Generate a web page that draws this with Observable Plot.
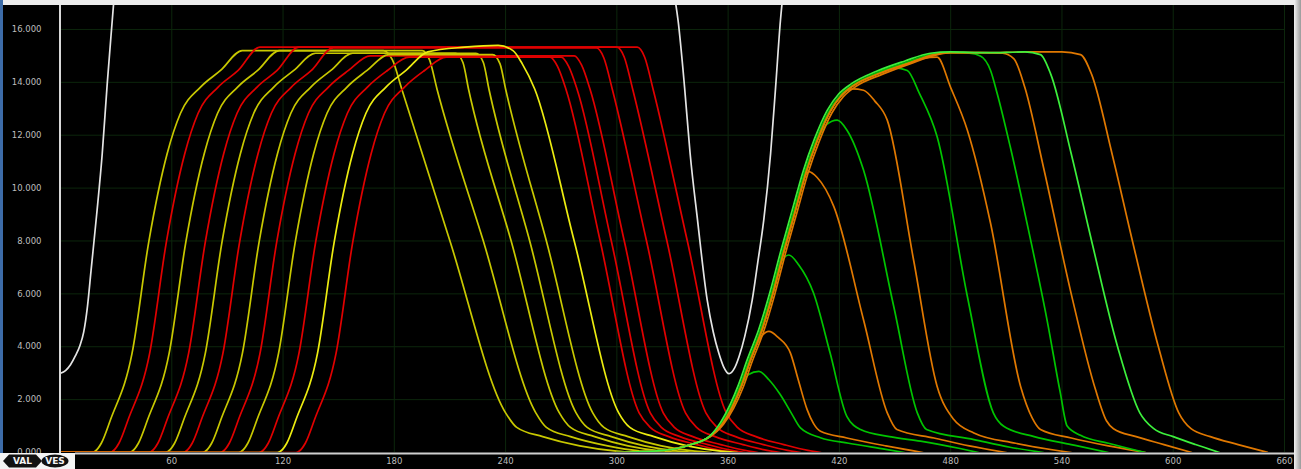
<!DOCTYPE html>
<html><head><meta charset="utf-8">
<script src="https://cdn.jsdelivr.net/npm/d3@7"></script>
<script src="https://cdn.jsdelivr.net/npm/@observablehq/plot@0.6"></script>
<style>html,body{margin:0;padding:0;background:#000;overflow:hidden}</style>
</head><body><div id="chart"></div>
<script>
// ---- tick values ----
const xTicks = [60,120,180,240,300,360,420,480,540,600,660];
const yTicks = [0,2,4,6,8,10,12,14,16];

// ---- white clearance curve (deg, mm) ----
const w1 = [0,3.0, 2.7,3.1, 5.4,3.32, 8,3.65, 10.5,4.05, 12.5,4.55, 14.5,5.5, 16.5,6.9, 19.5,9.0, 22.5,11.3, 25.2,13.95, 27.9,16.34, 29,17.3];
const w2 = [331,17.3, 333,16.34, 336.5,13.82, 339.5,11.31, 343.5,8.79, 348.7,5.77, 352,4.55, 355,3.75, 357.5,3.25, 360.5,2.98, 363.5,3.2, 366,3.65, 369,4.4, 373,5.77, 376,7.2, 379.2,8.79, 382.9,11.31, 385.6,13.82, 388.2,16.34, 389.5,17.3];

// ---- red / yellow lift curves (deg, mm) ----
const ry0 = [0,0, 17,0, 22,0.35, 27,1.25, 38.6,3.76, 47.6,7.97, 57.5,11.3, 64.7,12.83, 75.5,13.82, 86.3,14.45, 98,15.2, 174,15.2, 179,14.85, 184,13.75, 210,8, 240,1.5, 246,0.95, 260,0.6, 280,0.25, 300,0.05, 310,0];
const ry1 = [0,0, 26.5,0, 31.5,0.35, 36.5,1.25, 48.1,3.76, 57.1,7.97, 67,11.3, 74.2,12.83, 85,13.82, 95.8,14.45, 107.5,15.33, 311,15.33, 315,14.95, 319.5,13.75, 338,8, 359,1.5, 365,0.95, 375,0.6, 390,0.3, 403,0.08, 410,0];
const ry2 = [0,0, 37,0, 42,0.35, 47,1.25, 58.6,3.76, 67.6,7.97, 77.5,11.3, 84.7,12.83, 95.5,13.82, 106.3,14.45, 118,15.2, 195,15.2, 199,14.85, 203,13.75, 228,8, 256.3,1.5, 262,0.95, 275,0.6, 295,0.25, 313,0.05, 322,0];
const ry3 = [0,0, 47.5,0, 52.5,0.35, 57.5,1.25, 69.1,3.76, 78.1,7.97, 88,11.3, 95.2,12.83, 106,13.82, 116.8,14.45, 128.5,15.33, 300,15.33, 304,14.95, 308.5,13.75, 327,8, 348,1.5, 354,0.95, 364,0.6, 379,0.3, 392,0.08, 399,0];
const ry4 = [0,0, 56.5,0, 61.5,0.35, 66.5,1.25, 78.1,3.76, 87.1,7.97, 97,11.3, 104.2,12.83, 115,13.82, 125.8,14.45, 137.5,15.1, 213,15.1, 217,14.75, 220,13.75, 243,8, 269,1.5, 275,0.95, 288,0.6, 306,0.25, 324,0.05, 333,0];
const ry5 = [0,0, 66,0, 71,0.35, 76,1.25, 87.6,3.76, 96.6,7.97, 106.5,11.3, 113.7,12.83, 124.5,13.82, 135.3,14.45, 147,15.3, 289,15.3, 293,14.92, 297.5,13.75, 316,8, 337,1.5, 343,0.95, 353,0.6, 368,0.3, 381,0.08, 388,0];
const ry6 = [0,0, 76.5,0, 81.5,0.35, 86.5,1.25, 98.1,3.76, 107.1,7.97, 117,11.3, 124.2,12.83, 135,13.82, 145.8,14.45, 157.5,15.1, 224,15.1, 228,14.75, 231,13.75, 253,8, 278,1.5, 284,0.95, 297,0.6, 315,0.25, 333,0.05, 342,0];
const ry7 = [0,0, 86,0, 91,0.35, 96,1.25, 107.6,3.76, 116.6,7.97, 126.5,11.3, 133.7,12.83, 144.5,13.82, 155.3,14.45, 167,15.0, 277,15.0, 281,14.65, 285.5,13.75, 304,8, 325,1.5, 331,0.95, 341,0.6, 356,0.3, 369,0.08, 376,0];
const ry8 = [0,0, 96,0, 101,0.35, 106,1.25, 117.6,3.76, 126.6,7.97, 136.5,11.3, 143.7,12.83, 154.5,13.82, 165.3,14.45, 177,15.05, 233,15.05, 237,14.7, 240,13.75, 262,8, 287,1.5, 293,0.95, 306,0.6, 324,0.25, 342,0.05, 351,0];
const ry9 = [0,0, 107,0, 112,0.35, 117,1.25, 128.6,3.76, 137.6,7.97, 147.5,11.3, 154.7,12.83, 165.5,13.82, 176.3,14.45, 188,14.95, 270,14.95, 274,14.6, 278.5,13.75, 297,8, 318,1.5, 324,0.95, 334,0.6, 349,0.3, 362,0.08, 369,0];
const ry10 = [0,0, 117,0, 122,0.35, 127,1.25, 138.6,3.76, 147.6,7.97, 157.5,11.3, 164.7,12.83, 175.5,13.82, 186.3,14.45, 198,15.15, 218,15.33, 236,15.4, 244,15.2, 249,14.7, 255.7,13.75, 277,8, 301,1.5, 307,0.95, 320,0.6, 338,0.25, 356,0.05, 365,0];
const ry11 = [0,0, 127,0, 132,0.35, 137,1.25, 148.6,3.76, 157.6,7.97, 167.5,11.3, 174.7,12.83, 185.5,13.82, 196.3,14.45, 208,14.95, 264,14.95, 268,14.6, 272.5,13.75, 291,8, 312,1.5, 318,0.95, 328,0.6, 343,0.3, 356,0.08, 363,0];

// ---- green / orange lift curves (deg, mm) ----
const go1 = [300,0, 325,0.08, 340,0.3, 350,0.6, 357,1.1, 362,1.7, 367,2.5, 371,2.95, 376.6,3.07, 382,2.75, 388,2.2, 394,1.5, 399,0.93, 409.8,0.56, 425,0.35, 445,0.12, 455,0];
const go2 = [300,0, 325,0.08, 340,0.3, 350,0.6, 357,1.1, 362,1.7, 367,2.5, 372,3.5, 377,4.3, 382,4.58, 387,4.35, 393.6,3.76, 398,2.7, 402.6,1.62, 406,1.1, 409.8,0.8, 424,0.55, 445,0.25, 465,0];
const go3 = [300,0, 325,0.08, 340,0.3, 350,0.6, 357,1.1, 362,1.7, 367,2.5, 372,3.5, 378,4.6, 384,6.0, 388,7.1, 392.7,7.47, 398,7.1, 406,6.04, 415,3.76, 424,1.37, 431.4,0.87, 447,0.6, 463.7,0.43, 485,0.15, 495,0];
const go4 = [300,0, 325,0.08, 340,0.3, 350,0.6, 357,1.1, 362,1.7, 367,2.5, 372,3.5, 378,4.6, 384,6.0, 390,7.6, 396,9.1, 400,10.2, 403.5,10.62, 408,10.4, 417,9.3, 433,5.02, 445.8,1.5, 451,0.87, 471,0.55, 490,0.25, 510,0];
const go5 = [300,0, 325,0.08, 340,0.3, 350,0.6, 357,1.1, 362,1.7, 367,2.5, 372,3.5, 378,4.6, 384,6.0, 390,7.6, 396,9.1, 402,10.6, 408,11.8, 413,12.4, 418.8,12.57, 424,12.2, 433,10.68, 449.3,5.52, 462,1.5, 467,0.87, 492.5,0.49, 512,0.2, 530,0];
const go6 = [300,0, 325,0.08, 340,0.3, 350,0.6, 357,1.1, 362,1.7, 367,2.5, 372,3.5, 378,4.6, 384,6.0, 390,7.6, 396,9.1, 402,10.6, 408,11.8, 415,12.9, 421,13.5, 427,13.75, 433,13.7, 439,13.3, 445.8,12.57, 460,7.28, 472.7,2.5, 481.7,1.245, 492.5,0.74, 515,0.35, 545,0];
const go7 = [300,0, 325,0.08, 340,0.3, 350,0.6, 357,1.1, 362,1.7, 367,2.5, 372,3.5, 378,4.6, 384,6.0, 390,7.6, 396,9.1, 402,10.6, 408,11.8, 415,12.9, 421,13.5, 428,13.9, 442,14.35, 450,14.55, 456.6,14.45, 463,13.6, 472.7,11.94, 489,5.9, 503,1.5, 508.6,0.99, 525,0.6, 545,0.3, 565,0];
const go8 = [300,0, 325,0.08, 340,0.3, 350,0.6, 357,1.1, 362,1.7, 367,2.5, 372,3.5, 378,4.6, 384,6.0, 390,7.6, 396,9.1, 402,10.6, 408,11.8, 415,12.9, 421,13.5, 428,13.9, 442,14.35, 457,14.72, 465,14.9, 472.7,14.95, 480,13.8, 489,12.19, 501.5,8.67, 517.7,2.5, 524,1.3, 528.4,0.87, 545,0.55, 565,0.25, 585,0];
const go9 = [300,0, 325,0.08, 340,0.3, 350,0.6, 356.3,1.1, 361.3,1.7, 366.3,2.5, 371.3,3.5, 377.3,4.6, 383.3,6.0, 389.3,7.6, 395.3,9.1, 401.3,10.6, 407.3,11.8, 414.3,12.9, 420.3,13.5, 427.3,13.9, 441,14.38, 456,14.75, 470,15.07, 480,15.12, 490,15.1, 496,15.0, 501.5,14.45, 505,13.6, 512,11.6, 522,8.4, 532,5.0, 539,2.3, 542.8,1.0, 550,0.65, 565,0.35, 585,0];
const go10 = [300,0, 325,0.08, 340,0.3, 350,0.6, 357,1.1, 362,1.7, 367,2.5, 372,3.5, 378,4.6, 384,6.0, 390,7.6, 396,9.1, 402,10.6, 408,11.8, 415,12.9, 421,13.5, 428,13.9, 442,14.35, 457,14.72, 471,15.05, 480,15.12, 495,15.12, 508,15.1, 514,14.9, 520,13.8, 530,10.8, 545,6.0, 558,2.4, 564,1.2, 567.8,0.9, 580,0.6, 595,0.3, 610,0];
const go11 = [300,0, 325,0.08, 340,0.3, 350,0.62, 356,1.15, 361,1.8, 365.5,2.55, 370.5,3.55, 376.5,4.65, 382.5,6.05, 388.5,7.65, 394.5,9.15, 400.5,10.65, 406.5,11.85, 413.5,12.95, 419.5,13.55, 426.5,13.95, 440,14.42, 455,14.8, 469,15.1, 480,15.15, 500,15.12, 520,15.15, 528.4,15.05, 534,14.3, 545,11.3, 556,8.0, 570,4.0, 582,1.5, 589.5,0.9, 600,0.6, 612,0.3, 625,0];
const go12 = [300,0, 325,0.08, 340,0.3, 350,0.58, 357.5,1.07, 363,1.68, 368,2.45, 373,3.45, 379,4.55, 385,5.95, 391,7.55, 397,9.05, 403,10.55, 409,11.75, 416,12.85, 422,13.45, 429,13.85, 443,14.3, 458,14.7, 472,15.03, 480,15.12, 500,15.12, 520,15.15, 540,15.15, 550,15.05, 556,14.3, 567,11.3, 578,8.0, 592,4.0, 603,1.5, 609.6,0.9, 620,0.6, 635,0.3, 651,0];

// ---- series: name, colour, points (draw order) ----
const YEL = "#c8c800", YEL2 = "#ecec10", RED = "#e00000", GRN = "#00c400", GRN2 = "#3cf03c", ORG = "#e07800", WHT = "#e4e4e4";
const seriesNames  = ["ry0","ry1","ry2","ry3","ry4","ry5","ry6","ry7","ry8","ry9","ry11","ry10",
                      "go1","go2","go3","go4","go5","go6","go7","go8","go9","go10","go12","go11","w1","w2"];
const seriesColors = [YEL,RED,YEL,RED,YEL,RED,YEL,RED,YEL,RED,RED,YEL2,
                      GRN,ORG,GRN,ORG,GRN,ORG,GRN,ORG,GRN,ORG,ORG,GRN2,WHT,WHT];
const seriesPoints = [ry0,ry1,ry2,ry3,ry4,ry5,ry6,ry7,ry8,ry9,ry11,ry10,
                      go1,go2,go3,go4,go5,go6,go7,go8,go9,go10,go12,go11,w1,w2];

const rows = [];
seriesNames.forEach((name, i) => {
  const p = seriesPoints[i];
  for (let j = 0; j < p.length; j += 2) rows.push({id: name, color: seriesColors[i], deg: p[j], lift: p[j + 1]});
});

const W = 1301, H = 469;
const chart = Plot.plot({
  width: W, height: H,
  marginLeft: 60, marginRight: 17, marginTop: 5, marginBottom: 17,
  style: {background: "#000", color: "#bdbdbd", fontFamily: "'DejaVu Sans', Verdana, sans-serif", fontSize: "8.5px"},
  x: {domain: [0, 660], ticks: xTicks, tickSize: 0, tickPadding: 5, label: null},
  y: {domain: [0, 16.906], ticks: yTicks, tickFormat: d3.format(".3f"), tickSize: 0, tickPadding: 19, label: null},
  color: {type: "identity"},
  marks: [
    Plot.gridX(xTicks, {stroke: "#0c260c", strokeOpacity: 1, strokeWidth: 1}),
    Plot.gridY(yTicks.filter(d => d > 0), {stroke: "#0c260c", strokeOpacity: 1, strokeWidth: 1}),
    Plot.line(rows, {x: "deg", y: "lift", z: "id", stroke: "color", strokeWidth: 1.7, curve: "monotone-x", clip: true})
  ]
});
document.getElementById("chart").appendChild(chart);

// ---- window frame decorations ----
const svg = d3.select(chart);
const defs = svg.append("defs");
const g = defs.append("linearGradient").attr("id", "rg").attr("x1", 0).attr("x2", 1).attr("y1", 0).attr("y2", 0);
g.append("stop").attr("offset", "0%").attr("stop-color", "#f2f2f2");
g.append("stop").attr("offset", "100%").attr("stop-color", "#9a9a9a");
svg.append("rect").attr("x", 0).attr("y", 0).attr("width", W).attr("height", 5).attr("fill", "#ececec");
svg.append("rect").attr("x", 0).attr("y", 0).attr("width", 3).attr("height", 453).attr("fill", "#3d6ca8");
svg.append("rect").attr("x", 1294).attr("y", 0).attr("width", 7).attr("height", H).attr("fill", "url(#rg)");
svg.append("line").attr("x1", 60).attr("x2", 60).attr("y1", 5).attr("y2", 453).attr("stroke", "#d8d8d8").attr("stroke-width", 2);
svg.append("line").attr("x1", 75).attr("x2", 1294).attr("y1", 453.5).attr("y2", 453.5).attr("stroke", "#cfcfcf").attr("stroke-width", 2);
// logo
svg.append("rect").attr("x", 0).attr("y", 453).attr("width", 75).attr("height", 16).attr("fill", "#f4f4f4");
svg.append("polygon").attr("points", "3,461 9,454.5 36,454.5 42,461 36,467.5 9,467.5").attr("fill", "#111");
svg.append("ellipse").attr("cx", 55).attr("cy", 461).attr("rx", 13.5).attr("ry", 6.5).attr("fill", "#111");
svg.append("text").attr("x", 22.5).attr("y", 464.2).attr("text-anchor", "middle").attr("fill", "#f4f4f4")
  .attr("font-family", "'DejaVu Sans', sans-serif").attr("font-size", 9).attr("font-weight", "bold").text("VAL");
svg.append("text").attr("x", 55).attr("y", 464.2).attr("text-anchor", "middle").attr("fill", "#f4f4f4")
  .attr("font-family", "'DejaVu Sans', sans-serif").attr("font-size", 9).attr("font-weight", "bold").text("VES");
</script>
</body></html>
